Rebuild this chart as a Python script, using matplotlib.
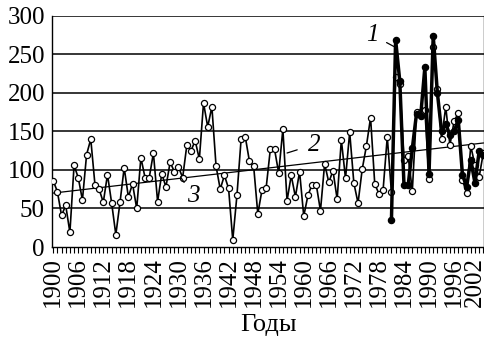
import matplotlib
matplotlib.use("Agg")
import matplotlib.pyplot as plt
import matplotlib.transforms as mtransforms
import numpy as np

plt.rcParams['font.family'] = ['Liberation Serif', 'DejaVu Serif']

# Series 3: long-term record, 1900-2003
years3 = list(range(1900, 2004))
values3 = [86, 72, 41, 54, 19, 106, 90, 61, 120, 140,
           81, 75, 58, 94, 57, 16, 58, 103, 65, 82,
           50, 116, 90, 90, 122, 59, 95, 78, 110, 98,
           104, 90, 132, 125, 138, 114, 187, 156, 182, 105,
           75, 93, 76, 9, 67, 140, 143, 111, 105, 43,
           74, 77, 127, 127, 96, 153, 60, 93, 65, 98,
           40, 67, 81, 81, 47, 108, 84, 99, 62, 139,
           89, 149, 83, 57, 101, 131, 168, 82, 69, 74,
           143, 71, 220, 212, 113, 118, 73, 175, 175, 178,
           88, 260, 205, 140, 182, 132, 163, 174, 87, 70,
           131, 106, 91, 122]

# Series 1: 1981-2003
years1 = list(range(1981, 2004))
values1 = [35, 269, 215, 81, 80, 128, 173, 170, 233, 95,
           274, 200, 150, 160, 145, 150, 165, 94, 78, 113,
           83, 124, 120]

# Series 2: linear trend (endpoints)
trend_years = [1900, 2003]
trend_values = [70, 135]

xtick_years = list(range(1900, 2003, 6))
ytick_values = [0, 50, 100, 150, 200, 250, 300]

fig = plt.figure(figsize=(4.85, 3.37), dpi=100)
ax = fig.add_axes([0.107, 0.267, 0.8916, 0.686])

for v in ytick_values[1:]:
    ax.axhline(v, color='black', lw=1.1, zorder=1)

ax.plot(trend_years, trend_values, color='black', lw=0.9, zorder=2)
ax.plot(years3, values3, color='black', lw=1.2, marker='o', ms=4.4,
        mfc='white', mec='black', mew=0.9, zorder=3)
ax.plot(years1, values1, color='black', lw=2.5, marker='o', ms=4.4,
        mfc='black', mec='black', zorder=4)

ax.set_xlim(1899.69, 2003.24)
ax.set_ylim(0, 300)
ax.set_yticks(ytick_values)
ax.set_yticklabels([str(v) for v in ytick_values], fontsize=18)
ax.set_xticks(xtick_years)
ax.set_xticklabels([str(y) for y in xtick_years], rotation=90, fontsize=18)
ax.set_xticks(list(range(1900, 2004)), minor=True)
ax.tick_params(axis='x', which='both', direction='out', length=4.5, width=0.8, pad=3)
ax.tick_params(axis='y', length=0, pad=5)
for s in ax.spines.values():
    s.set_linewidth(1.0)
ax.spines['top'].set_visible(False)

# nudge the last year label a little left so it stays inside the figure
last = ax.get_xticklabels()[-1]
last.set_transform(last.get_transform() +
                   mtransforms.ScaledTranslation(-0.045, 0, fig.dpi_scale_trans))

ax.set_xlabel('Годы', fontsize=19, labelpad=5)

# annotations
ax.annotate('1', xy=(1982, 259), xytext=(1976.5, 275), fontsize=18, style='italic',
            ha='center', va='center',
            arrowprops=dict(arrowstyle='-', color='black', lw=0.9, shrinkA=4, shrinkB=0))
ax.annotate('2', xy=(1956, 122), xytext=(1962.5, 133), fontsize=18, style='italic',
            ha='center', va='center',
            arrowprops=dict(arrowstyle='-', color='black', lw=0.9, shrinkA=6, shrinkB=0))
ax.annotate('3', xy=(1930.5, 91), xytext=(1933.5, 66), fontsize=18, style='italic',
            ha='center', va='center',
            arrowprops=dict(arrowstyle='-', color='black', lw=0.9, shrinkA=8, shrinkB=0))

fig.savefig('out.png', dpi=100)
